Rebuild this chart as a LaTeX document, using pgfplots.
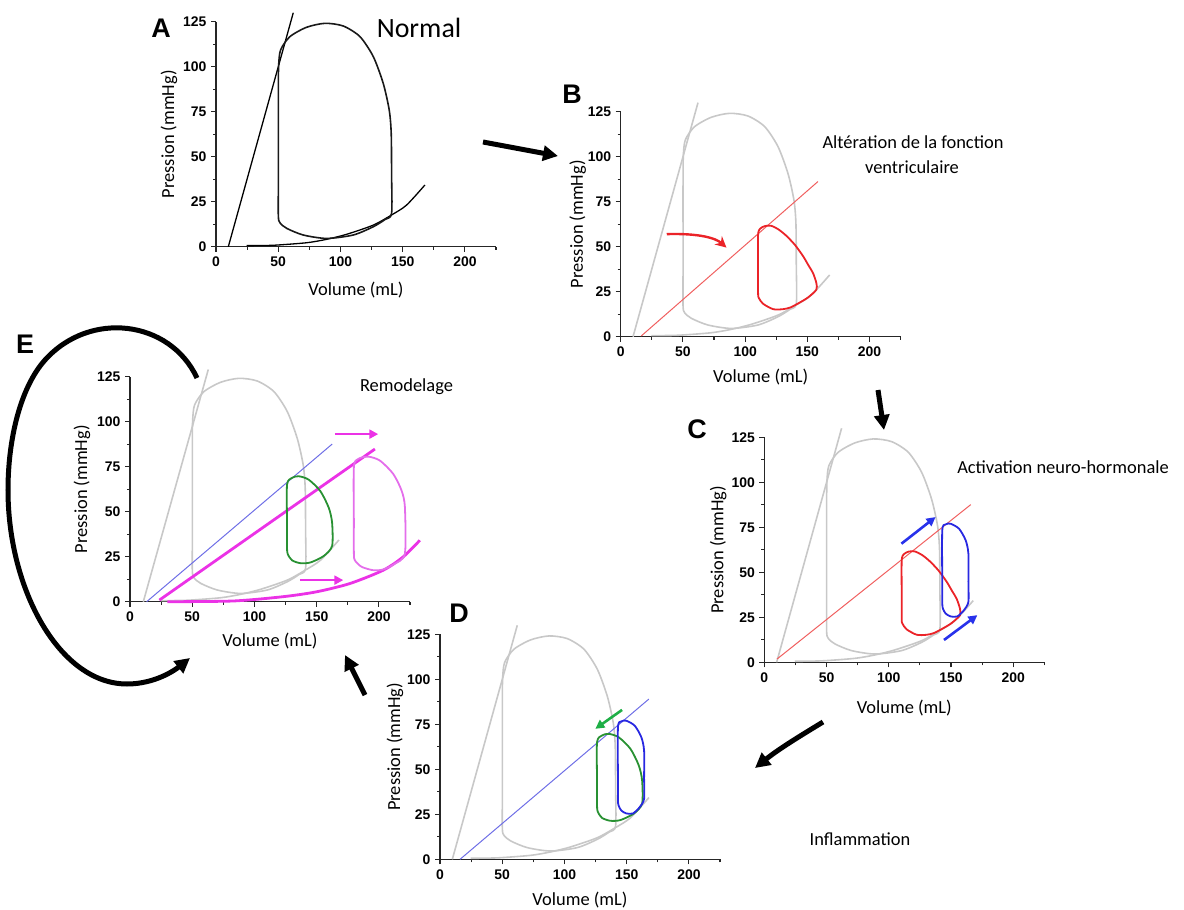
\documentclass[border=0pt]{standalone}
\usepackage{fontspec}
\usepackage{pgfplots}
\pgfplotsset{compat=1.18}
\usepackage{pgfplotstable}
\usetikzlibrary{arrows.meta}
\setmainfont{Carlito}
\newfontfamily\arialf{Liberation Sans}
\definecolor{lgray}{RGB}{200,200,200}
\definecolor{rloop}{RGB}{235,35,40}
\definecolor{rline}{RGB}{240,95,95}
\definecolor{bloop}{RGB}{40,40,225}
\definecolor{bline}{RGB}{110,110,230}
\definecolor{barrow}{RGB}{40,50,235}
\definecolor{gloop}{RGB}{40,145,50}
\definecolor{garrow}{RGB}{30,175,70}
\definecolor{mthick}{RGB}{235,50,230}
\definecolor{mloop}{RGB}{228,110,235}

\pgfplotstableread{
x y
50.1 60
50.1 85
50.3 100
51.9 109.3
59.4 116.7
72.8 121.9
87.6 124.1
102.3 122.6
115.7 116.7
126.4 105.6
134.4 90.7
139.2 75.9
140.8 63
141.1 40
141.1 18.5
136.0 15.2
126.4 11.1
110.3 6.5
88.9 4.6
70.1 6.5
56.8 10.2
51.4 13.3
50.1 17
50.1 35
50.1 60
}\normalloop

\pgfplotstableread{
x y
24.6 0.6
46 0.8
72.8 2.2
88.9 4.1
105 6.9
126.4 12
141 17.6
153.1 23.1
167.9 34.3
}\edpvr

\pgfplotstableread{
x y
110.4 40
110.4 56.5
112.0 60.0
116.0 61.5
121.0 61.6
127.0 59.5
133.2 56.0
140.0 51.0
146.5 44.8
151.0 39.5
154.5 35.4
157.2 29.9
157.2 26.1
150.5 21.8
143.9 19.0
136.5 16.3
130.5 15.3
122.5 15.3
114.4 18.3
111.0 21.5
110.4 24.3
110.4 40
}\redloop

\pgfplotstableread{
x y
143 45
143 73.3
145.7 76.6
149.7 77
156.5 74.2
161.8 67.8
164 60.4
164 45
164 33.6
160.5 29
155.1 25.5
149.7 25.5
145.7 27.1
143.5 29.9
143 33
143 45
}\blueloop

\pgfplotstableread{
x y
126.2 45
126.2 65.1
130.2 68.8
135.6 69.7
143.6 67.8
153 61.4
159.7 52.2
162.4 43.9
162.4 31
155.7 25.4
145 21.8
136.9 21.4
130.2 23
126.8 26.4
126.2 30
126.2 45
}\greenloop

\pgfplotstableread{
x y
179.9 45
179.9 74.7
183.4 79.3
191.4 80.6
200.8 78.4
211.5 71
218.2 61.8
220.9 52.5
220.9 26.7
212.5 21.0
203.5 17.9
195.4 17.5
186.1 19.4
180.7 23
179.9 27
179.9 45
}\magloop

\pgfplotstableread{
x y
30 0
83 0.4
123.2 2.8
149.9 5.5
176.7 10.1
203.5 17.5
219.5 24.9
232.9 34.1
}\magedpvr

\pgfplotsset{
  pv/.style={
    scale only axis, width=280bp, height=225bp,
    xmin=0, xmax=225, ymin=0, ymax=125,
    axis x line*=bottom, axis y line*=left,
    axis line style={line width=1.2bp, black!85},
    xtick={0,50,...,200}, minor xtick={25,75,...,225},
    ytick={0,25,...,125}, minor ytick={12.5,37.5,...,112.5},
    tick align=outside, major tick length=5bp, minor tick length=3bp,
    every tick/.style={black!85, line width=1.1bp},
    tick label style={font=\arialf\bfseries\fontsize{14}{16}\selectfont},
    xticklabel style={yshift=-2bp},
    yticklabel style={xshift=-1bp},
    /pgf/number format/assume math mode=true,
    xlabel={Volume (mL)}, ylabel={Pression (mmHg)},
    label style={font=\fontsize{18.5}{21}\selectfont},
    clip=false, no markers,
  },
  xlab/.style={xlabel style={at={(axis description cs:0.5,-#1/225)},anchor=center}},
  ylab/.style={ylabel style={at={(axis description cs:-#1/280,0.5)},anchor=center}},
}

\begin{document}
\begin{tikzpicture}
% ---------------- A
\begin{axis}[pv, at={(216bp,-246.7bp)}, anchor=south west, xlab=43, ylab=47]
\addplot[black, line width=1.3bp] coordinates {(9.9,0) (62.1,130)};
\addplot[black, line width=1.3bp, smooth, tension=0.45] table {\edpvr};
\addplot[black!90, line width=1.6bp, smooth, tension=0.45] table {\normalloop};
\end{axis}
% ---------------- B
\begin{axis}[pv, at={(620.7bp,-336.7bp)}, anchor=south west, xlab=40, ylab=43]
\addplot[lgray, line width=1.6bp] coordinates {(9.9,0) (62.1,130)};
\addplot[lgray, line width=1.6bp, smooth, tension=0.45] table {\edpvr};
\addplot[lgray, line width=1.6bp, smooth, tension=0.45] table {\normalloop};
\addplot[rline, line width=1bp] coordinates {(16.5,0.4) (158.5,86.2)};
\addplot[rloop, line width=1.8bp, smooth, tension=0.45] table {\redloop};
\draw[rloop, line width=2.4bp, -{Stealth[length=11bp,width=11bp]}] (axis cs:37,57) .. controls (axis cs:62,57.5) and (axis cs:76,55) .. (axis cs:85,49.5);
\end{axis}
% ---------------- C
\begin{axis}[pv, at={(764.3bp,-662.3bp)}, anchor=south west, xlab=46, ylab=46]
\addplot[lgray, line width=1.6bp] coordinates {(9.9,0) (62.1,130)};
\addplot[lgray, line width=1.6bp, smooth, tension=0.45] table {\edpvr};
\addplot[lgray, line width=1.6bp, smooth, tension=0.45] table {\normalloop};
\addplot[rline, line width=1bp] coordinates {(10.2,1.8) (165.9,87.6)};
\addplot[rloop, line width=1.8bp, smooth, tension=0.45] table {\redloop};
\addplot[bloop, line width=1.8bp, smooth, tension=0.45] table {\blueloop};
\draw[barrow, line width=2.6bp, -{Triangle[length=9bp,width=9bp]}] (axis cs:110.2,65.9) -- (axis cs:137.6,80.7);
\draw[barrow, line width=2.6bp, -{Triangle[length=9bp,width=9bp]}] (axis cs:144.4,12.4) -- (axis cs:171.2,26.2);
\end{axis}
% ---------------- D
\begin{axis}[pv, at={(440bp,-859.3bp)}, anchor=south west, xlab=41, ylab=45]
\addplot[lgray, line width=1.6bp] coordinates {(9.9,0) (62.1,130)};
\addplot[lgray, line width=1.6bp, smooth, tension=0.45] table {\edpvr};
\addplot[lgray, line width=1.6bp, smooth, tension=0.45] table {\normalloop};
\addplot[bline, line width=1bp] coordinates {(16.1,0) (167.8,89)};
\addplot[gloop, line width=1.8bp, smooth, tension=0.45] table {\greenloop};
\addplot[bloop, line width=1.8bp, smooth, tension=0.45] table {\blueloop};
\draw[garrow, line width=2.6bp, -{Triangle[length=9bp,width=9bp]}] (axis cs:146.3,83) -- (axis cs:124.8,72.5);
\end{axis}
% ---------------- E
\begin{axis}[pv, at={(130bp,-601.7bp)}, anchor=south west, xlab=39, ylab=48]
\addplot[lgray, line width=1.6bp] coordinates {(10.7,0) (62.9,129)};
\addplot[lgray, line width=1.6bp, smooth, tension=0.45] table {\edpvr};
\addplot[lgray, line width=1.6bp, smooth, tension=0.45] table {\normalloop};
\addplot[bline, line width=1bp] coordinates {(13.4,0) (162.5,87.6)};
\addplot[mthick, line width=2.8bp] coordinates {(23.6,0.9) (196.8,84.8)};
\addplot[mthick, line width=2.8bp, smooth, tension=0.45] table {\magedpvr};
\addplot[gloop, line width=1.8bp, smooth, tension=0.45] table {\greenloop};
\addplot[mloop, line width=1.8bp, smooth, tension=0.45] table {\magloop};
\draw[mthick, line width=2.6bp, -{Triangle[length=9bp,width=9bp]}] (axis cs:164.7,93.1) -- (axis cs:199.5,93.1);
\draw[mthick, line width=2.6bp, -{Triangle[length=9bp,width=9bp]}] (axis cs:136.5,12) -- (axis cs:171.4,12);
\end{axis}

\begin{scope}[x=1bp, y=-1bp]
% big black arrows
\draw[line width=5bp, -{Triangle[length=15bp,width=15bp]}] (483,142) -- (558,156);
\draw[line width=5bp, -{Triangle[length=15bp,width=15bp]}] (878,390) -- (884,430);
\draw[line width=5bp, -{Triangle[length=15bp,width=15bp]}] (823,722) .. controls (805,733) and (780,748) .. (755,768);
\draw[line width=5bp, -{Triangle[length=15bp,width=15bp]}] (365,695) -- (345,655);
\draw[line width=5bp, -{Triangle[length=15bp,width=15bp]}] (197,378) .. controls (170,320) and (90,310) .. (45,360) .. controls (20,388) and (8,440) .. (8,490) .. controls (8,590) and (60,684) .. (127,684) .. controls (155,684) and (175,670) .. (190,658);
% panel letters
\node[font=\arialf\bfseries\fontsize{27}{30}\selectfont, anchor=base, inner sep=0] at (161,37) {A};
\node[font=\arialf\bfseries\fontsize{27}{30}\selectfont, anchor=base, inner sep=0] at (572,103) {B};
\node[font=\arialf\bfseries\fontsize{27}{30}\selectfont, anchor=base, inner sep=0] at (697,438) {C};
\node[font=\arialf\bfseries\fontsize{27}{30}\selectfont, anchor=base, inner sep=0] at (459,622) {D};
\node[font=\arialf\bfseries\fontsize{27}{30}\selectfont, anchor=base, inner sep=0] at (25,353) {E};
% annotations
\node[font=\fontsize{28}{32}\selectfont, anchor=base, inner sep=0] at (419,37) {Normal};
\node[font=\fontsize{18.5}{21}\selectfont, anchor=base, inner sep=0] at (913,148) {Altération de la fonction};
\node[font=\fontsize{18.5}{21}\selectfont, anchor=base, inner sep=0] at (912,173) {ventriculaire};
\node[font=\fontsize{18.5}{21}\selectfont, anchor=base, inner sep=0] at (1063,473) {Activation neuro-hormonale};
\node[font=\fontsize{18.5}{21}\selectfont, anchor=base, inner sep=0] at (406.5,391) {Remodelage};
\node[font=\fontsize{18.5}{21}\selectfont, anchor=base, inner sep=0] at (860,845) {Inflammation};
\end{scope}
\pgfresetboundingbox
\useasboundingbox (0,0) rectangle (1184bp,-910bp);
\end{tikzpicture}
\end{document}
